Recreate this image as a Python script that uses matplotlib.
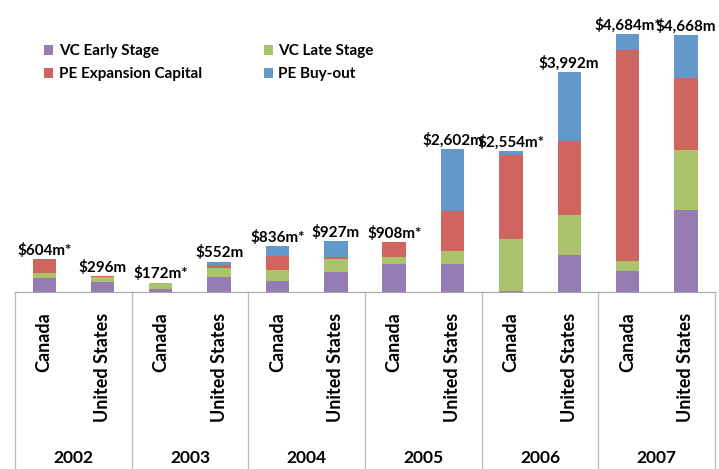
import matplotlib.pyplot as plt

# data (US$ millions)
years = ['2002', '2003', '2004', '2005', '2006', '2007']
countries = ['Canada', 'United States']
vc_early = [255, 190, 60, 280, 195, 360, 505, 500, 18, 680, 385, 1490]
vc_late = [88, 80, 100, 150, 210, 245, 137, 250, 950, 724, 183, 1090]
pe_expansion = [261, 20, 8, 55, 250, 38, 266, 725, 1526, 1331, 3822, 1308]
pe_buyout = [0, 6, 4, 67, 181, 284, 0, 1127, 60, 1257, 294, 780]
total_labels = ['$604m*', '$296m', '$172m*', '$552m', '$836m*', '$927m',
                '$908m*', '$2,602m', '$2,554m*', '$3,992m', '$4,684m*', '$4,668m']

series = [('VC Early Stage', vc_early, '#957DB4'),
          ('VC Late Stage', vc_late, '#ABC46B'),
          ('PE Expansion Capital', pe_expansion, '#D0655F'),
          ('PE Buy-out', pe_buyout, '#6398CA')]

plt.rcParams['font.family'] = ['Lato', 'DejaVu Sans']
plt.rcParams['font.weight'] = 'bold'

fig = plt.figure(figsize=(7.19, 4.69), dpi=100)
ax = fig.add_axes([15 / 719, 1 - 292 / 469, 700 / 719, 292 / 469])

x = [i + 0.5 for i in range(len(total_labels))]
bottom = [0] * len(x)
handles = []
for name, vals, color in series:
    b = ax.bar(x, vals, width=0.4, bottom=bottom, color=color, label=name)
    handles.append(b)
    bottom = [bt + v for bt, v in zip(bottom, vals)]

for xi, top, lab in zip(x, bottom, total_labels):
    ax.annotate(lab, (xi, top), xytext=(0, 3), textcoords='offset points',
                ha='center', va='baseline', fontsize=11, fontweight='bold')

ax.set_xlim(0, 12)
ax.set_ylim(0, 5300)
ax.set_xticks([])
ax.set_yticks([])
for s in ['top', 'right', 'left']:
    ax.spines[s].set_visible(False)
ax.spines['bottom'].set_color('#A6A6A6')

# category axis: countries, years and separators
tr = ax.get_xaxis_transform()
for g in range(len(years) + 1):
    ax.plot([2 * g, 2 * g], [0, -0.62], transform=tr, color='#BDBDBD',
            lw=1, clip_on=False)
for i, xi in enumerate(x):
    ax.text(xi, -0.07, countries[i % 2], transform=tr, rotation=90,
            ha='center', va='top', fontsize=13, fontweight='bold')
for g, yr in enumerate(years):
    ax.text(2 * g + 1, -0.57, yr, transform=tr, ha='center', va='center',
            fontsize=12.5, fontweight='bold')

# legend rows: VC Early / VC Late, then PE Expansion / PE Buy-out
order = [handles[0], handles[2], handles[1], handles[3]]
fig.legend(handles=order, loc='upper left', bbox_to_anchor=(38 / 719, 1 - 38 / 469),
           ncol=2, frameon=False, fontsize=11, handlelength=0.6, handleheight=0.6,
           handletextpad=0.35, columnspacing=4.05, labelspacing=0.6, borderaxespad=0)

fig.savefig('out.png', dpi=100)
